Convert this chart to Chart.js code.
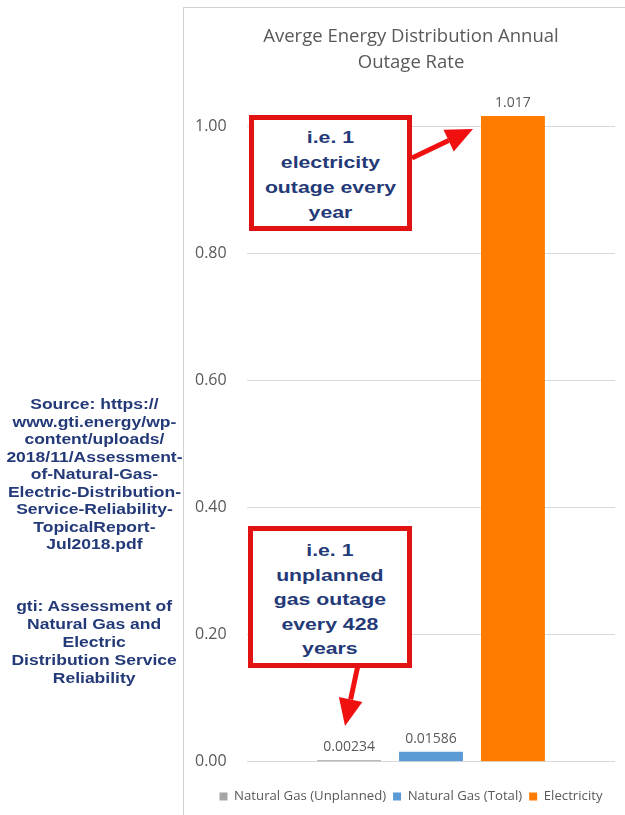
<!DOCTYPE html>
<html>
<head>
<meta charset="utf-8">
<script src="https://cdn.jsdelivr.net/npm/chart.js@4"></script>
<style>
  html, body { margin: 0; padding: 0; background: #fff; overflow: hidden; }
  #wrap { position: relative; width: 625px; height: 815px; }
  #panel { position: absolute; left: 183px; top: 7px; width: 460px; height: 820px;
           border-left: 1px solid #d0d0d0; border-top: 1px solid #d0d0d0; }
  canvas { position: absolute; left: 0; top: 0; }
  .note { position: absolute; font-family: "Liberation Sans", Arial, sans-serif; font-weight: bold;
          color: #243a78; text-align: center; }
  .note span { display: inline-block; transform: scaleX(1.25); white-space: nowrap; }
  .src { left: 4px; width: 180px; font-size: 14px; line-height: 17.5px; }
  .box { border: 5px solid #e31212; background: #fff; font-size: 17px; line-height: 25px;
         box-sizing: border-box; }
</style>
</head>
<body>
<div id="wrap">
  <div id="panel"></div>
  <canvas id="myChart" width="625" height="815"></canvas>
  <div class="note src" style="top:396px"><span>Source: https://<br>www.gti.energy/wp-<br>content/uploads/<br>2018/11/Assessment-<br>of-Natural-Gas-<br>Electric-Distribution-<br>Service-Reliability-<br>TopicalReport-<br>Jul2018.pdf</span></div>
  <div class="note src" style="top:597px; line-height:18px;"><span>gti: Assessment of<br>Natural Gas and<br>Electric<br>Distribution Service<br>Reliability</span></div>
  <div class="note box" style="left:249px; top:115px; width:163px; height:116px; padding-top:5px;"><span>i.e. 1<br>electricity<br>outage every<br>year</span></div>
  <div class="note box" style="left:248px; top:526px; width:164px; height:142px; padding-top:8px; line-height:24.5px;"><span>i.e. 1<br>unplanned<br>gas outage<br>every 428<br>years</span></div>
</div>
<script>
const categorias = [''];
const series = ['Natural Gas (Unplanned)', 'Natural Gas (Total)', 'Electricity'];
const valores = [0.00234, 0.01586, 1.017];
const etiquetas = ['0.00234', '0.01586', '1.017'];
const colores = ['#a5a5a5', '#5b9bd5', '#ff7c00'];
const ticksY = [0, 0.2, 0.4, 0.6, 0.8, 1.0];

const datasets = series.map((nombre, i) => ({
  label: nombre,
  data: [valores[i]],
  backgroundColor: colores[i],
  borderWidth: 0,
  categoryPercentage: 0.668,
  barPercentage: 0.78
}));

// etiquetas de valor encima de cada barra
const pluginEtiquetas = {
  id: 'etiquetas',
  afterDatasetsDraw(chart) {
    const ctx = chart.ctx;
    ctx.save();
    ctx.font = '14px "Open Sans", sans-serif';
    ctx.fillStyle = '#595959';
    ctx.textAlign = 'center';
    ctx.textBaseline = 'bottom';
    chart.data.datasets.forEach((ds, i) => {
      const bar = chart.getDatasetMeta(i).data[0];
      ctx.fillText(etiquetas[i], bar.x, bar.y - 6);
    });
    ctx.restore();
  }
};

// flechas rojas de las notas
function flecha(ctx, x1, y1, x2, y2) {
  const ang = Math.atan2(y2 - y1, x2 - x1);
  const largo = 27, ancho = 12;
  const bx = x2 - largo * Math.cos(ang), by = y2 - largo * Math.sin(ang);
  ctx.beginPath();
  ctx.moveTo(x1, y1);
  ctx.lineTo(bx, by);
  ctx.stroke();
  ctx.beginPath();
  ctx.moveTo(x2, y2);
  ctx.lineTo(bx + ancho * Math.sin(ang), by - ancho * Math.cos(ang));
  ctx.lineTo(bx - ancho * Math.sin(ang), by + ancho * Math.cos(ang));
  ctx.closePath();
  ctx.fill();
}

const pluginFlechas = {
  id: 'flechas',
  afterDraw(chart) {
    const ctx = chart.ctx;
    ctx.save();
    ctx.strokeStyle = '#f01010';
    ctx.fillStyle = '#f01010';
    ctx.lineWidth = 5;
    flecha(ctx, 412, 158, 473, 129);
    flecha(ctx, 358, 665, 345, 726);
    ctx.restore();
  }
};

let canva = document.getElementById('myChart').getContext('2d');

let myChart = new Chart(canva, {
  type: 'bar',
  data: { labels: categorias, datasets: datasets },
  plugins: [pluginEtiquetas, pluginFlechas],
  options: {
    responsive: false,
    animation: false,
    layout: { padding: { left: 207, right: 10, top: 24, bottom: 2 } },
    plugins: {
      title: {
        display: true,
        text: ['Averge Energy Distribution Annual', 'Outage Rate'],
        color: '#595959',
        font: { family: '"Open Sans", sans-serif', size: 18.5, weight: 'normal', lineHeight: 1.38 },
        padding: { top: 0, bottom: 20 }
      },
      legend: {
        position: 'bottom',
        labels: {
          color: '#595959',
          font: { family: '"Open Sans", sans-serif', size: 13.2 },
          boxWidth: 8,
          boxHeight: 8,
          padding: 7
        }
      },
      tooltip: { enabled: false }
    },
    scales: {
      x: {
        grid: { display: false },
        border: { display: false },
        ticks: { display: false },
        afterFit(scale) { scale.height = 21; }
      },
      y: {
        min: 0,
        max: 1.05,
        afterBuildTicks(axis) {
          axis.ticks = ticksY.map(v => ({ value: v }));
        },
        afterFit(scale) { scale.width = 40; },
        grid: { color: '#d9d9d9', drawTicks: false },
        border: { display: false },
        ticks: {
          color: '#595959',
          mirror: true,
          padding: -52,
          font: { family: '"Open Sans", sans-serif', size: 16 },
          callback: v => v.toFixed(2)
        }
      }
    }
  }
});
</script>
</body>
</html>
